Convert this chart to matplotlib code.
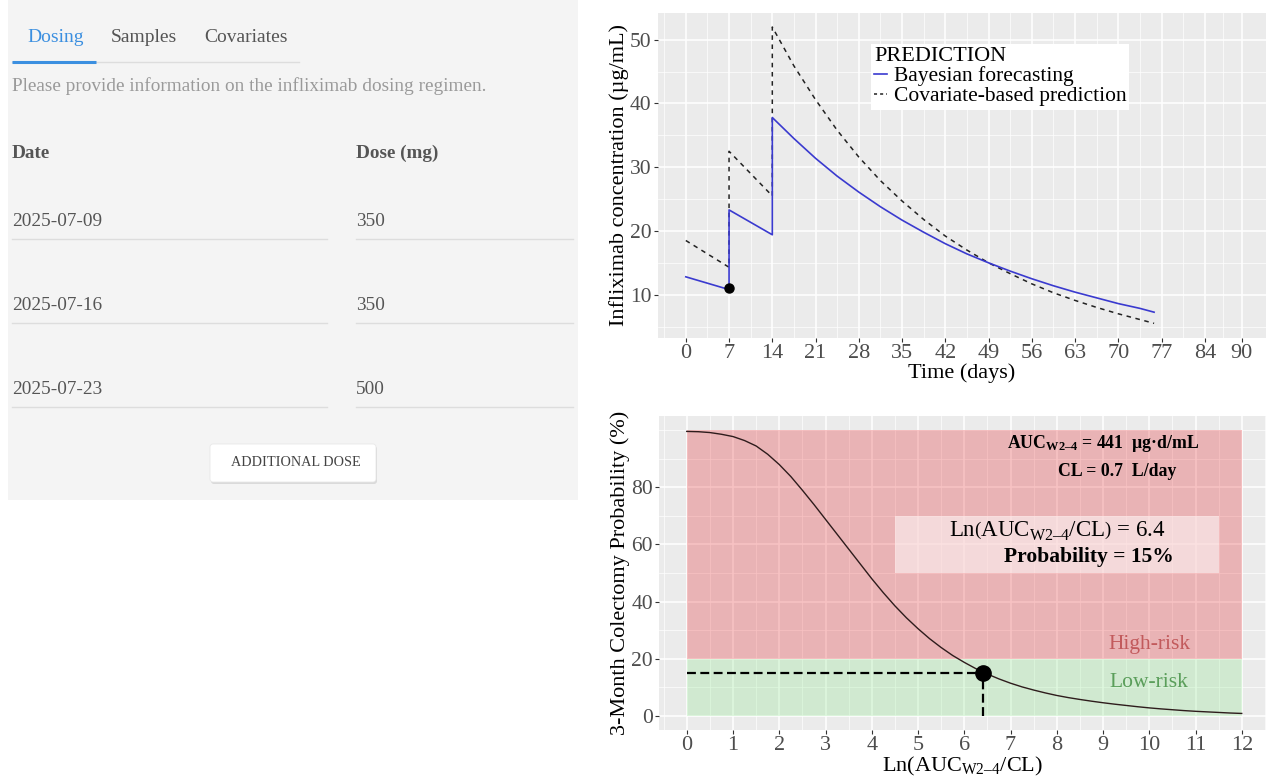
import matplotlib.pyplot as plt
import matplotlib.patches as mpatches
from matplotlib.lines import Line2D
import numpy as np

plt.rcParams['font.family'] = ['Liberation Serif', 'DejaVu Serif']
plt.rcParams['mathtext.fontset'] = 'custom'
plt.rcParams['mathtext.rm'] = 'Liberation Serif'
plt.rcParams['mathtext.it'] = 'Liberation Serif:italic'
plt.rcParams['mathtext.bf'] = 'Liberation Serif:bold'

# --- form data (left panel)
tabs = ['Dosing', 'Samples', 'Covariates']
dose_dates = ['2025-07-09', '2025-07-16', '2025-07-23']
dose_mg = [350, 350, 500]

# --- concentration-time profiles
t_bayes = [0, 7, 7, 14, 14, 17.5, 21, 24.5, 28, 31.5, 35, 38.5, 42, 45.5,
           49, 52.5, 56, 59.5, 63, 66.5, 70, 73.5, 75.8]
c_bayes = [12.8, 10.8, 23.3, 19.4, 37.8, 34.5, 31.4, 28.6, 26.1, 23.8, 21.7,
           19.8, 18.0, 16.4, 15.0, 13.7, 12.5, 11.4, 10.4, 9.5, 8.6, 7.85, 7.25]
t_cov = t_bayes
c_cov = [18.5, 14.3, 32.5, 25.5, 52.0, 45.9, 40.6, 35.8, 31.6, 27.9, 24.7,
         21.8, 19.2, 17.0, 15.0, 13.3, 11.7, 10.3, 9.1, 8.0, 7.0, 6.1, 5.5]
obs_t = [7]
obs_c = [11.0]
time_breaks = [0, 7, 14, 21, 28, 35, 42, 49, 56, 63, 70, 77, 84, 90]

# --- colectomy probability curve
ln_ratio = [0, 0.25, 0.5, 0.75, 1, 1.25, 1.5, 1.75, 2, 2.25, 2.5, 2.75, 3,
            3.25, 3.5, 3.75, 4, 4.25, 4.5, 4.75, 5, 5.25, 5.5, 5.75, 6, 6.25,
            6.5, 6.75, 7, 7.25, 7.5, 7.75, 8, 8.25, 8.5, 8.75, 9, 9.25, 9.5,
            9.75, 10, 10.25, 10.5, 10.75, 11, 11.25, 11.5, 11.75, 12]
prob = [99.6, 99.5, 99.2, 98.6, 97.8, 96.4, 94.5, 91.6, 88.0, 83.8, 79.0,
        74.0, 68.8, 63.6, 58.4, 53.2, 48.0, 43.1, 38.5, 34.3, 30.5, 27.0,
        23.9, 21.1, 18.7, 16.5, 14.6, 12.9, 11.4, 10.1, 9.0, 8.0, 7.1, 6.35,
        5.7, 5.1, 4.55, 4.05, 3.6, 3.15, 2.75, 2.4, 2.1, 1.8, 1.55, 1.35,
        1.15, 0.95, 0.8]
patient_x = 6.4
patient_p = 15
risk_cut = 20
auc = 441
cl = 0.7

W, H = 1266, 780
fig = plt.figure(figsize=(W / 100, H / 100), dpi=100)


def px_axes(l, t, r, b):
    return fig.add_axes([l / W, 1 - b / H, (r - l) / W, (b - t) / H])


# ================= left: dosing form =================
ui = fig.add_axes([0, 0, 1, 1])
ui.set_xlim(0, W)
ui.set_ylim(H, 0)
ui.axis('off')
ui.add_patch(mpatches.Rectangle((8, 0), 570, 500, color='#f4f4f4', lw=0))

tab_x = [27, 111, 204]
for name, x in zip(tabs, tab_x):
    ui.text(x, 37, name, fontsize=14, va='center', ha='left',
            color='#3b8fe0' if name == 'Dosing' else '#555555')
ui.plot([12, 299], [62, 62], color='#dddddd', lw=1)
ui.plot([12, 96], [61.5, 61.5], color='#3b8fe0', lw=2.2, solid_capstyle='butt')
ui.text(12, 86, 'Please provide information on the infliximab dosing regimen.',
        fontsize=13.9, color='#9a9a9a', va='center')
ui.text(12, 153, 'Date', fontsize=13.8, weight='bold', color='#555555', va='center')
ui.text(356, 153, 'Dose (mg)', fontsize=13.8, weight='bold', color='#555555', va='center')
for i, (d, mg) in enumerate(zip(dose_dates, dose_mg)):
    y = 222 + i * 84
    ui.text(12, y, d, fontsize=13.9, color='#555555', va='center')
    ui.text(356, y, str(mg), fontsize=13.9, color='#555555', va='center')
    ui.plot([12, 327], [y + 17, y + 17], color='#dddddd', lw=1)
    ui.plot([356, 573], [y + 17, y + 17], color='#dddddd', lw=1)
ui.add_patch(mpatches.FancyBboxPatch((211, 446), 166, 38, boxstyle='round,pad=0,rounding_size=3',
                                     color='#dadada', lw=0))
ui.add_patch(mpatches.FancyBboxPatch((210, 444), 166, 38, boxstyle='round,pad=0,rounding_size=3',
                                     facecolor='white', edgecolor='#e8e8e8', lw=0.6))
ui.text(296, 463, 'ADDITIONAL DOSE', fontsize=10.3, color='#444444', ha='center', va='center')


def gg_style(ax):
    ax.set_facecolor('#ebebeb')
    for s in ax.spines.values():
        s.set_visible(False)
    ax.set_axisbelow(True)
    ax.grid(True, which='major', color='white', lw=1.1)
    ax.grid(True, which='minor', color='white', lw=0.5)
    ax.tick_params(which='major', length=3, width=0.8, color='#333333',
                   labelcolor='#4d4d4d', labelsize=16, pad=1.5)
    ax.tick_params(axis='y', labelsize=15.5)
    ax.tick_params(which='minor', length=0)


# ================= top right: concentration =================
ax1 = px_axes(658, 13, 1266, 338)
gg_style(ax1)
ax1.plot(t_cov, c_cov, color='#222222', lw=1.1, dashes=(3, 3))
ax1.plot(t_bayes, c_bayes, color='#3a3acf', lw=1.2)
ax1.plot(obs_t, obs_c, 'o', color='black', ms=6.5)
ax1.set_xlim(-4.5, -4.5 + 608 / 6.178)
ax1.set_ylim(3.2, 54.2)
ax1.set_xticks(time_breaks)
ax1.set_xticks([(a + b) / 2 for a, b in zip([-7] + time_breaks[:-1], time_breaks)], minor=True)
ax1.set_yticks([10, 20, 30, 40, 50])
ax1.set_yticks([5, 15, 25, 35, 45], minor=True)
ax1.set_xlabel('Time (days)', fontsize=16, labelpad=0)
ax1.set_ylabel('Infliximab concentration (µg/mL)', fontsize=16, labelpad=1)
handles = [Line2D([], [], color='#3a3acf', lw=1.2),
           Line2D([], [], color='#222222', lw=1.1, dashes=(2, 2))]
ax1.legend(handles, ['Bayesian forecasting', 'Covariate-based prediction'],
           title='PREDICTION', loc='upper left',
           bbox_to_anchor=((871 - 658) / 608, (338 - 44) / 325),
           frameon=True, facecolor='white', edgecolor='none', framealpha=1,
           fancybox=False, fontsize=15.5, title_fontsize=16, handlelength=0.6,
           handletextpad=0.3, labelspacing=0.0, borderpad=0.15, borderaxespad=0,
           alignment='left')

# ================= bottom right: colectomy probability =================
ax2 = px_axes(659, 416, 1266, 730)
gg_style(ax2)
ax2.add_patch(mpatches.Rectangle((0, risk_cut), 12, 100 - risk_cut,
                                 facecolor=(0.9, 0.06, 0.08), alpha=0.25, lw=0))
ax2.add_patch(mpatches.Rectangle((0, 0), 12, risk_cut,
                                 facecolor=(0.5, 0.9, 0.5), alpha=0.25, lw=0))
ax2.add_patch(mpatches.Rectangle((4.5, 50), 7, 20, facecolor='white', alpha=0.5, lw=0))
ax2.plot(ln_ratio, prob, color='#2e1c1c', lw=1.0)
ax2.plot([0, patient_x], [patient_p, patient_p], color='black', lw=1.6, dashes=(4, 2))
ax2.plot([patient_x, patient_x], [0, patient_p], color='black', lw=1.6, dashes=(4, 2))
ax2.plot([patient_x], [patient_p], 'o', color='black', ms=11)
ax2.set_xlim(-0.6, -0.6 + 607 / 46.25)
ax2.set_ylim(-5, 105)
ax2.set_xticks(range(0, 13))
ax2.set_xticks(np.arange(-0.5, 12.6, 1.0), minor=True)
ax2.set_yticks([0, 20, 40, 60, 80])
ax2.set_yticks([10, 30, 50, 70, 90, 100], minor=True)
ax2.set_xlabel('Ln(AUC$_{\\mathrm{W2\u20134}}$/CL)', fontsize=16, labelpad=0)
ax2.set_ylabel('3-Month Colectomy Probability (%)', fontsize=16, labelpad=1)

ax2.text(9.0, 95.3, 'AUC$_{\\mathbf{W2\u20134}}$ = %d  µg·d/mL' % auc, fontsize=12.8,
         weight='bold', ha='center', va='center')
ax2.text(9.3, 85.5, 'CL = %.1f  L/day' % cl, fontsize=12.8, weight='bold',
         ha='center', va='center')
ax2.text(8.0, 64.8, 'Ln$\\left(\\mathrm{AUC}_{\\mathrm{W2\u20134}}/\\mathrm{CL}\\right)$ = %.1f' % patient_x,
         fontsize=16.5, ha='center', va='center')
ax2.text(8.7, 55.7, 'Probability = %d%%' % patient_p, fontsize=15.5, weight='bold',
         ha='center', va='center')
ax2.text(10.0, 24.8, 'High-risk', fontsize=15.5, color='#c25a5c', ha='center', va='center')
ax2.text(10.0, 11.6, 'Low-risk', fontsize=15.5, color='#5a9e5a', ha='center', va='center')

fig.savefig('out.png', dpi=100)
